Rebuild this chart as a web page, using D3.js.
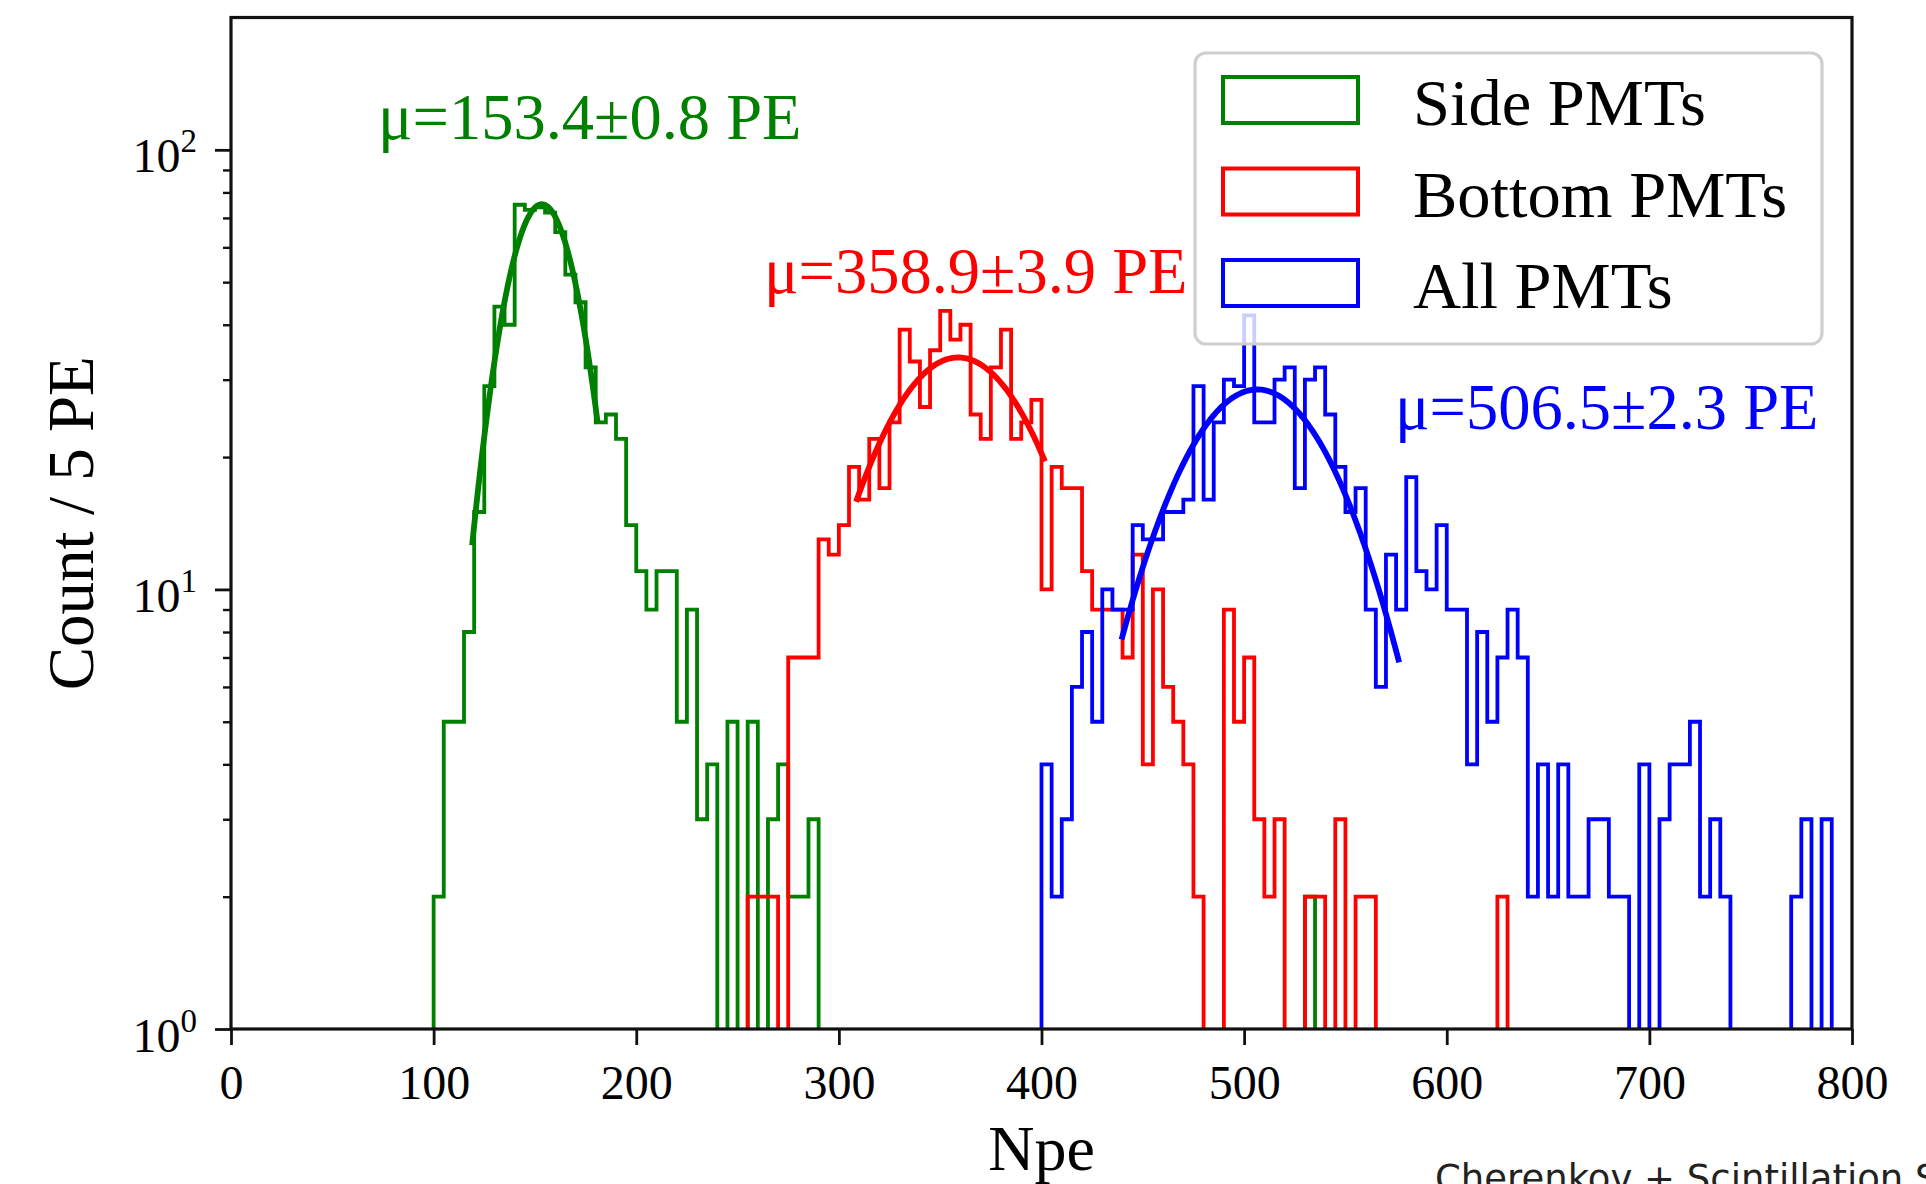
<!DOCTYPE html>
<html>
<head>
<meta charset="utf-8">
<script src="https://cdn.jsdelivr.net/npm/d3@7"></script>
<style>
  html, body { margin: 0; padding: 0; background: #fff; }
  svg { display: block; }
</style>
</head>
<body>
<svg id="chart" width="1926" height="1184"></svg>
<script>
// ---- Histogram contents: counts per 5 PE bin ----
const BIN_WIDTH = 5;
const X_MIN = 0, X_MAX = 800;

// Side PMTs: first bin starts at 100 PE
const sideStart = 100;
const sideCounts = [2, 5, 5, 8, 15, 29, 44, 40, 75, 73, 74, 72, 65, 52, 45, 32, 24, 25, 22, 14,
                    11, 9, 11, 11, 5, 9, 3, 4, 0, 5, 0, 5, 0, 3, 4, 2, 2, 3];
const sideIsolated = [[530, 2]];

// Bottom PMTs: first bin starts at 255 PE
const bottomStart = 255;
const bottomCounts = [2, 2, 2, 0, 7, 7, 7, 13, 12, 14, 19, 16, 22, 17, 24, 39, 33, 26, 35, 43,
                      37, 40, 25, 22, 32, 39, 22, 24, 27, 10, 19, 17, 17, 11, 9, 9, 9, 7, 12, 4,
                      10, 6, 5, 4, 2, 0, 0, 9, 5, 7, 3, 2, 3, 0, 0, 2, 2, 0, 3, 0, 2, 2];
const bottomIsolated = [[625, 2]];

// All PMTs: first bin starts at 400 PE
const allStart = 400;
const allCounts = [4, 2, 3, 6, 8, 5, 10, 9, 9, 14, 13, 13, 15, 15, 16, 29, 16, 24, 30, 29,
                   42, 24, 24, 30, 32, 17, 30, 32, 25, 19, 15, 17, 9, 6, 12, 9, 18, 11, 10, 14,
                   9, 9, 4, 8, 5, 7, 9, 7, 2, 4, 2, 4, 2, 2, 3, 3, 2, 2, 0, 4,
                   0, 3, 4, 4, 5, 2, 3, 2, 0, 0, 0, 0, 0, 0, 2, 3, 0, 3, 0, 0];
const allIsolated = [];

// ---- Gaussian fits ----
const seriesNames  = ["Side PMTs", "Bottom PMTs", "All PMTs"];
const seriesColors = ["#008000", "#ff0000", "#0000ff"];
const fitMu    = [153.4, 358.9, 506.5];
const fitErr   = [0.8, 3.9, 2.3];
const fitSigma = [18.2, 41.0, 41.4];
const fitAmp   = [75.2, 33.7, 28.5];
const fitLo    = [119, 308.5, 439.5];
const fitHi    = [181, 401.7, 576.5];

// ---- Axis ticks ----
const xTicks = [0, 100, 200, 300, 400, 500, 600, 700, 800];
const yMajorExp = [0, 1, 2];
const yMax = 200;

// ---- Layout ----
const M = { left: 231, right: 1852, top: 17.5, bottom: 1029 };
const svg = d3.select("#chart");
const serif = "'Liberation Serif', 'Times New Roman', serif";

const x = d3.scaleLinear().domain([X_MIN, X_MAX]).range([M.left, M.right]);
const y = d3.scaleLog().domain([1, yMax]).range([M.bottom, M.top]);

function fullCounts(start, counts, isolated) {
  const n = (X_MAX - X_MIN) / BIN_WIDTH;
  const arr = new Array(n).fill(0);
  counts.forEach((c, i) => { arr[(start - X_MIN) / BIN_WIDTH + i] = c; });
  isolated.forEach(([s, c]) => { arr[(s - X_MIN) / BIN_WIDTH] = c; });
  return arr;
}

const histograms = [
  fullCounts(sideStart, sideCounts, sideIsolated),
  fullCounts(bottomStart, bottomCounts, bottomIsolated),
  fullCounts(allStart, allCounts, allIsolated)
];

svg.append("defs").append("clipPath").attr("id", "plotClip")
  .append("rect")
  .attr("x", M.left).attr("y", M.top)
  .attr("width", M.right - M.left).attr("height", M.bottom - M.top);

const plot = svg.append("g").attr("clip-path", "url(#plotClip)");

// step outline of each histogram; empty bins sit on the lower edge
const yc = c => (c > 0 ? y(c) : M.bottom + 1);
const stepLine = d3.line()
  .x(d => x(d[0]))
  .y(d => yc(d[1]))
  .curve(d3.curveStepAfter);

histograms.forEach((counts, k) => {
  const pts = [[X_MIN, 0]];
  counts.forEach((c, i) => pts.push([X_MIN + i * BIN_WIDTH, c]));
  pts.push([X_MAX, counts[counts.length - 1]]);
  pts.push([X_MAX, 0]);
  plot.append("path")
    .attr("d", stepLine(pts))
    .attr("fill", "none")
    .attr("stroke", seriesColors[k])
    .attr("stroke-width", 3.8)
    .attr("stroke-linejoin", "miter");
});

// fitted gaussians
const fitLine = d3.line().x(d => x(d[0])).y(d => y(d[1])).curve(d3.curveLinear);
fitMu.forEach((mu, k) => {
  const pts = d3.range(0, 201).map(j => {
    const v = fitLo[k] + (fitHi[k] - fitLo[k]) * j / 200;
    return [v, fitAmp[k] * Math.exp(-((v - mu) ** 2) / (2 * fitSigma[k] ** 2))];
  });
  plot.append("path")
    .attr("d", fitLine(pts))
    .attr("fill", "none")
    .attr("stroke", seriesColors[k])
    .attr("stroke-width", 5.8)
    .attr("stroke-linecap", "butt");
});

// ---- Axes ----
const xAxis = d3.axisBottom(x).tickValues(xTicks).tickSize(16).tickPadding(0).tickFormat(d3.format("d"));
const gx = svg.append("g").attr("transform", `translate(0,${M.bottom})`).call(xAxis);
gx.select(".domain").remove();
gx.selectAll(".tick line").attr("stroke", "#111").attr("stroke-width", 2.8);
gx.selectAll(".tick text")
  .attr("y", 70).attr("dy", null)
  .attr("font-family", serif).attr("font-size", 48).attr("fill", "#000");

// log y axis: major ticks at decades, minor ticks in between
const minorVals = [];
yMajorExp.forEach(e => {
  for (let m = 2; m <= 9; m++) {
    const v = m * Math.pow(10, e);
    if (v < yMax) minorVals.push(v);
  }
});
const gyMinor = svg.append("g").attr("transform", `translate(${M.left},0)`)
  .call(d3.axisLeft(y).tickValues(minorVals).tickSize(8).tickFormat(""));
gyMinor.select(".domain").remove();
gyMinor.selectAll(".tick line").attr("stroke", "#111").attr("stroke-width", 2.4);

const gyMajor = svg.append("g").attr("transform", `translate(${M.left},0)`)
  .call(d3.axisLeft(y).tickValues(yMajorExp.map(e => Math.pow(10, e))).tickSize(16).tickFormat(""));
gyMajor.select(".domain").remove();
gyMajor.selectAll(".tick line").attr("stroke", "#111").attr("stroke-width", 2.8);
gyMajor.selectAll(".tick").each(function (d, i) {
  const t = d3.select(this).append("text")
    .attr("x", -34).attr("y", 22)
    .attr("text-anchor", "end")
    .attr("font-family", serif).attr("font-size", 48).attr("fill", "#000");
  t.append("tspan").text("10");
  t.append("tspan").attr("dy", -20).attr("font-size", 33).text(String(yMajorExp[i]));
});

// frame
svg.append("rect")
  .attr("x", M.left).attr("y", M.top)
  .attr("width", M.right - M.left).attr("height", M.bottom - M.top)
  .attr("fill", "none").attr("stroke", "#111").attr("stroke-width", 3.2);

// axis titles
svg.append("text")
  .attr("x", (M.left + M.right) / 2).attr("y", 1170)
  .attr("text-anchor", "middle")
  .attr("font-family", serif).attr("font-size", 64).attr("fill", "#000")
  .text("Npe");
svg.append("text")
  .attr("transform", `translate(93,${(M.top + M.bottom) / 2}) rotate(-90)`)
  .attr("text-anchor", "middle")
  .attr("font-family", serif).attr("font-size", 65).attr("fill", "#000")
  .text("Count / 5 PE");

// ---- fit results ----
const labelX = [378, 764, 1395];
const labelY = [139, 293, 429];
fitMu.forEach((mu, k) => {
  svg.append("text")
    .attr("x", labelX[k]).attr("y", labelY[k])
    .attr("font-family", serif).attr("font-size", 64.5)
    .attr("fill", seriesColors[k])
    .text(`\u03bc=${mu.toFixed(1)}\u00b1${fitErr[k].toFixed(1)} PE`);
});

// ---- Legend ----
const lg = svg.append("g");
lg.append("rect")
  .attr("x", 1195).attr("y", 53).attr("width", 627).attr("height", 291)
  .attr("rx", 11).attr("ry", 11)
  .attr("fill", "#fff").attr("fill-opacity", 0.8)
  .attr("stroke", "#cfcfcf").attr("stroke-width", 3.2);
seriesNames.forEach((name, k) => {
  const top = 77 + k * 91.5;
  lg.append("rect")
    .attr("x", 1223).attr("y", top).attr("width", 135).attr("height", 46)
    .attr("fill", "none").attr("stroke", seriesColors[k]).attr("stroke-width", 4);
  lg.append("text")
    .attr("x", 1413).attr("y", top + 48)
    .attr("font-family", serif).attr("font-size", 66.5).attr("fill", "#000")
    .text(name);
});

// caption along the lower edge
svg.append("text")
  .attr("x", 1435).attr("y", 1191)
  .attr("font-family", "'DejaVu Sans', sans-serif").attr("font-size", 37).attr("fill", "#222")
  .text("Cherenkov + Scintillation Signal");
</script>
</body>
</html>
